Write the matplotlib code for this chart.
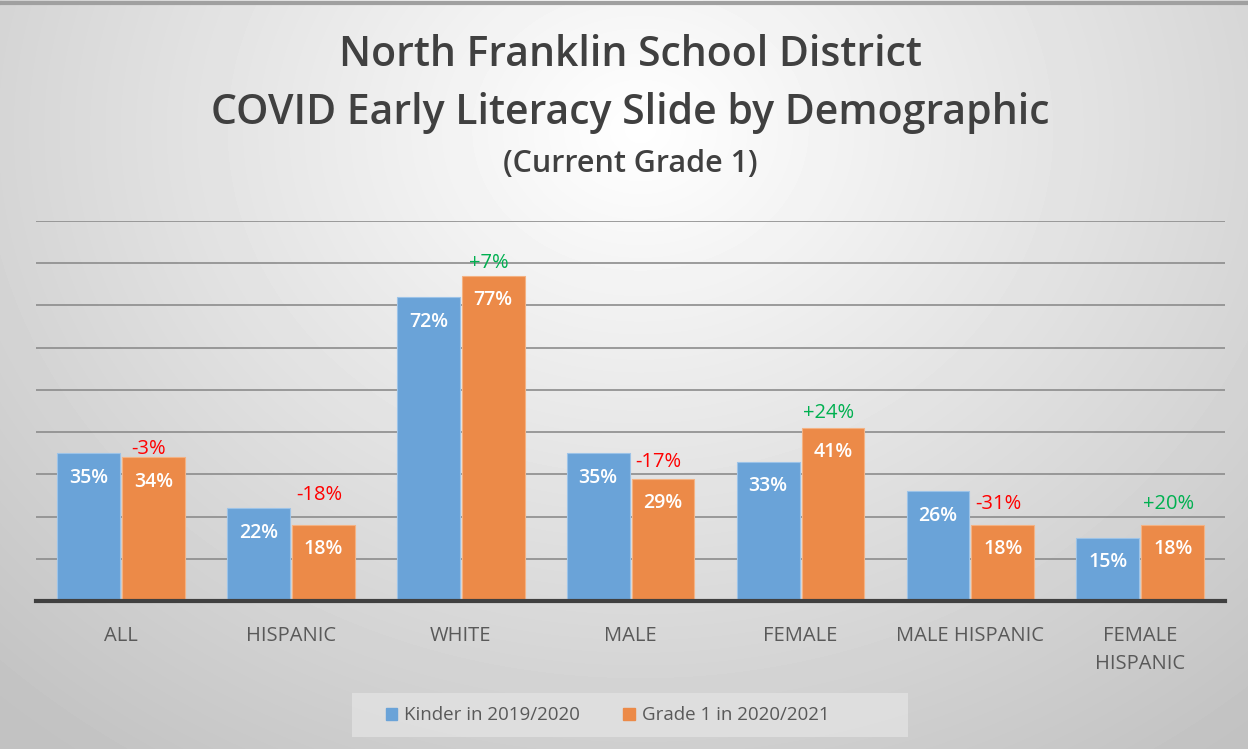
import matplotlib
matplotlib.use("Agg")
import matplotlib.pyplot as plt
from matplotlib.patches import Patch, Rectangle
import numpy as np

categories = ["ALL", "HISPANIC", "WHITE", "MALE", "FEMALE", "MALE HISPANIC", "FEMALE\nHISPANIC"]
kinder = [0.35, 0.22, 0.72, 0.35, 0.33, 0.26, 0.15]
grade1 = [0.34, 0.18, 0.77, 0.29, 0.41, 0.18, 0.18]
change_labels = ["-3%", "-18%", "+7%", "-17%", "+24%", "-31%", "+20%"]
change_y = [0.36, 0.25, 0.80, 0.33, 0.445, 0.23, 0.23]

blue = "#6aa3d8"
orange = "#ec8a48"
text_gray = "#595959"
plt.rcParams['font.family'] = ['Open Sans', 'DejaVu Sans']

fig = plt.figure(figsize=(12.48, 7.49), dpi=100)

# background gradient
bg = fig.add_axes([0, 0, 1, 1], zorder=-5)
yy, xx = np.mgrid[0:749, 0:1248]
d = np.sqrt(((xx - 640) / 900.0) ** 2 + ((yy - 130) / 750.0) ** 2)
shade = np.clip(1.0 - 0.23 * d, 0.76, 1.0)
bg.imshow(shade, cmap="gray", vmin=0, vmax=1, aspect="auto", extent=[0, 1, 0, 1])
bg.plot([0, 1], [0.996, 0.996], color="#a0a0a0", lw=3, transform=bg.transAxes)
bg.axis("off")

ax = fig.add_axes([0.0288, 0.1976, 0.953, 0.5073])
ax.patch.set_alpha(0)

x = np.arange(len(categories))
w = 0.37
b1 = ax.bar(x - w / 2 - 0.006, kinder, w, color=blue, edgecolor="#9cc3e8", lw=0.8, zorder=3)
b2 = ax.bar(x + w / 2 + 0.006, grade1, w, color=orange, edgecolor="#f4b283", lw=0.8, zorder=3)

for rect, v in zip(list(b1) + list(b2), kinder + grade1):
    ax.text(rect.get_x() + rect.get_width() / 2, v - 0.058, f"{round(v * 100)}%",
            ha="center", va="center", color="white", fontsize=14, fontweight="semibold", zorder=4)

for i, (lab, yv) in enumerate(zip(change_labels, change_y)):
    col = "#00b050" if lab.startswith("+") else "#ff0000"
    ax.text(x[i] + w / 2 - 0.02, yv, lab, ha="center", va="center", color=col, fontsize=14.5, zorder=4)

ax.set_xlim(-0.5, len(categories) - 0.5)
ax.set_ylim(0, 0.9)
ax.set_yticks(np.arange(0.1, 0.91, 0.1))
ax.yaxis.grid(True, color="#8c8c8c", lw=1.2, zorder=0)
ax.tick_params(axis="y", left=False, labelleft=False)
ax.tick_params(axis="x", length=0, pad=18)
ax.set_xticks(x)
ax.set_xticklabels(categories, color=text_gray, fontsize=14.5, linespacing=1.55)
for s in ["top", "right", "left"]:
    ax.spines[s].set_visible(False)
ax.spines["bottom"].set_color("#404040")
ax.spines["bottom"].set_linewidth(3)
ax.spines["bottom"].set_zorder(5)

fig.text(0.505, 0.927, "North Franklin School District", ha="center", va="center",
         fontsize=29.5, fontweight="semibold", color="#404040")
fig.text(0.505, 0.849, "COVID Early Literacy Slide by Demographic", ha="center", va="center",
         fontsize=29.5, fontweight="semibold", color="#404040")
fig.text(0.505, 0.781, "(Current Grade 1)", ha="center", va="center",
         fontsize=22, fontweight="semibold", color="#404040")

# legend box
fig.patches.append(Rectangle((352 / 1248, 1 - 737 / 749), 556 / 1248, 44 / 749,
                             transform=fig.transFigure, facecolor="#e2e2e2", alpha=0.8,
                             edgecolor="none", zorder=1))
handles = [Patch(color=blue), Patch(color=orange)]
leg = fig.legend(handles, ["Kinder in 2019/2020", "Grade 1 in 2020/2021"], loc="center",
                 bbox_to_anchor=(0.487, 0.045), ncol=2, frameon=False, fontsize=13.5,
                 handlelength=0.6, handleheight=0.6, handletextpad=0.4, columnspacing=2.3)
for t in leg.get_texts():
    t.set_color(text_gray)

plt.savefig("out.png", dpi=100)
plt.close()
